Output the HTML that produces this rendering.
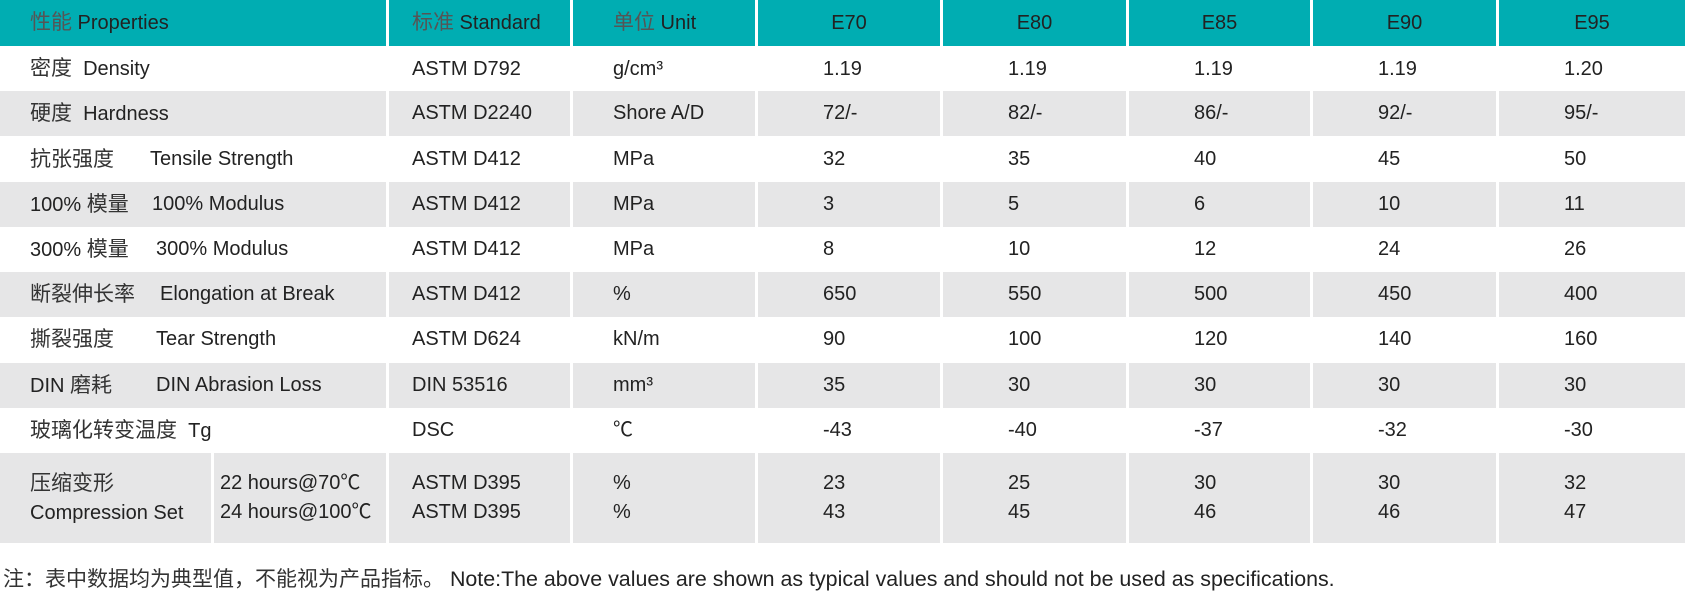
<!DOCTYPE html>
<html><head><meta charset="utf-8"><style>
body{margin:0;width:1685px;height:600px;background:#fff;position:relative;overflow:hidden;font-family:"Liberation Sans","Noto Sans CJK SC",sans-serif;font-size:20px;color:#222}
.r{position:absolute;left:0;width:1685px}
.c{position:absolute;top:0;height:100%;box-sizing:border-box;white-space:pre}
.h .c{background:#00adb2;color:#222}
.h .c.ctr{text-align:center}
.g .c{background:#e6e6e7}
.zh{color:#555}
.c0{left:0;width:386px;padding-left:30px}
.c1{left:389px;width:181px;padding-left:23px}
.c2{left:573px;width:182px;padding-left:40px}
.c3{left:758px;width:182px}
.c4{left:943px;width:183px}
.c5{left:1129px;width:181px}
.c6{left:1313px;width:183px}
.c7{left:1499px;width:186px}
.v{padding-left:65px}
.en{position:absolute;left:156px;top:0}
.cj{font-size:21px;color:#333}
</style></head><body>

<div class="r h" style="top:0;height:46px;line-height:46px">
<div class="c c0"><span class="zh cj" style="color:#555">性能</span> Properties</div>
<div class="c c1"><span class="zh cj" style="color:#555">标准</span> Standard</div>
<div class="c c2"><span class="zh cj" style="color:#555">单位</span> Unit</div>
<div class="c c3 ctr">E70</div><div class="c c4 ctr">E80</div><div class="c c5 ctr">E85</div><div class="c c6 ctr">E90</div><div class="c c7 ctr">E95</div>
</div>

<div class="r" style="top:47px;height:44px;line-height:44px">
<div class="c c0"><span class="cj">密度</span>  Density</div><div class="c c1">ASTM D792</div><div class="c c2">g/cm³</div>
<div class="c c3 v">1.19</div><div class="c c4 v">1.19</div><div class="c c5 v">1.19</div><div class="c c6 v">1.19</div><div class="c c7 v">1.20</div>
</div>

<div class="r g" style="top:91px;height:45px;line-height:45px">
<div class="c c0"><span class="cj">硬度</span>  Hardness</div><div class="c c1">ASTM D2240</div><div class="c c2">Shore A/D</div>
<div class="c c3 v">72/-</div><div class="c c4 v">82/-</div><div class="c c5 v">86/-</div><div class="c c6 v">92/-</div><div class="c c7 v">95/-</div>
</div>

<div class="r" style="top:137px;height:45px;line-height:45px">
<div class="c c0"><span class="cj">抗张强度</span><span class="en" style="left:150px">Tensile Strength</span></div><div class="c c1">ASTM D412</div><div class="c c2">MPa</div>
<div class="c c3 v">32</div><div class="c c4 v">35</div><div class="c c5 v">40</div><div class="c c6 v">45</div><div class="c c7 v">50</div>
</div>

<div class="r g" style="top:182px;height:45px;line-height:45px">
<div class="c c0">100% <span class="cj">模量</span><span class="en" style="left:152px">100% Modulus</span></div><div class="c c1">ASTM D412</div><div class="c c2">MPa</div>
<div class="c c3 v">3</div><div class="c c4 v">5</div><div class="c c5 v">6</div><div class="c c6 v">10</div><div class="c c7 v">11</div>
</div>

<div class="r" style="top:227px;height:45px;line-height:45px">
<div class="c c0">300% <span class="cj">模量</span><span class="en">300% Modulus</span></div><div class="c c1">ASTM D412</div><div class="c c2">MPa</div>
<div class="c c3 v">8</div><div class="c c4 v">10</div><div class="c c5 v">12</div><div class="c c6 v">24</div><div class="c c7 v">26</div>
</div>

<div class="r g" style="top:272px;height:45px;line-height:45px">
<div class="c c0"><span class="cj">断裂伸长率</span><span class="en" style="left:160px">Elongation at Break</span></div><div class="c c1">ASTM D412</div><div class="c c2">%</div>
<div class="c c3 v">650</div><div class="c c4 v">550</div><div class="c c5 v">500</div><div class="c c6 v">450</div><div class="c c7 v">400</div>
</div>

<div class="r" style="top:317px;height:45px;line-height:45px">
<div class="c c0"><span class="cj">撕裂强度</span><span class="en">Tear Strength</span></div><div class="c c1">ASTM D624</div><div class="c c2">kN/m</div>
<div class="c c3 v">90</div><div class="c c4 v">100</div><div class="c c5 v">120</div><div class="c c6 v">140</div><div class="c c7 v">160</div>
</div>

<div class="r g" style="top:363px;height:45px;line-height:45px">
<div class="c c0">DIN <span class="cj">磨耗</span><span class="en">DIN Abrasion Loss</span></div><div class="c c1">DIN 53516</div><div class="c c2">mm³</div>
<div class="c c3 v">35</div><div class="c c4 v">30</div><div class="c c5 v">30</div><div class="c c6 v">30</div><div class="c c7 v">30</div>
</div>

<div class="r" style="top:408px;height:45px;line-height:45px">
<div class="c c0"><span class="cj">玻璃化转变温度</span>  Tg</div><div class="c c1">DSC</div><div class="c c2">℃</div>
<div class="c c3 v">-43</div><div class="c c4 v">-40</div><div class="c c5 v">-37</div><div class="c c6 v">-32</div><div class="c c7 v">-30</div>
</div>

<div class="r g" style="top:453px;height:90px;line-height:29px">
<div class="c c0" style="width:211px;padding-top:16px"><span class="cj">压缩变形</span><br>Compression Set</div>
<div class="c" style="left:214px;width:172px;padding-left:6px;padding-top:16px">22 hours@70℃<br>24 hours@100℃</div>
<div class="c c1" style="padding-top:16px">ASTM D395<br>ASTM D395</div><div class="c c2" style="padding-top:16px">%<br>%</div>
<div class="c c3 v" style="padding-top:16px">23<br>43</div><div class="c c4 v" style="padding-top:16px">25<br>45</div><div class="c c5 v" style="padding-top:16px">30<br>46</div><div class="c c6 v" style="padding-top:16px">30<br>46</div><div class="c c7 v" style="padding-top:16px">32<br>47</div>
</div>

<div style="position:absolute;left:3px;top:563px;font-size:21.4px;white-space:pre;color:#222"><span style="font-size:21px;color:#333">注：表中数据均为典型值，不能视为产品指标。</span> Note:The above values are shown as typical values and should not be used as specifications.</div>

</body></html>
